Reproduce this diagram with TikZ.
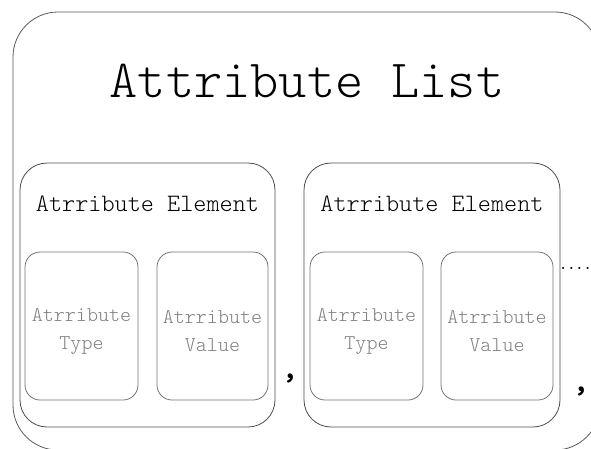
\documentclass[tikz,border=0pt]{standalone}
\usetikzlibrary{positioning}

\tikzset{
    listbox/.style={draw=black!65, line width=0.8pt, rounded corners=45pt},
    elembox/.style={draw=black!70, line width=0.8pt, rounded corners=27pt, minimum height=264pt, inner sep=0pt},
    partbox/.style={draw=black!55, line width=0.8pt, rounded corners=15pt, minimum height=148pt, inner sep=0pt},
    titletext/.style={font=\ttfamily\fontseries{l}\fontsize{53.7}{54}\selectfont, anchor=base},
    elemtext/.style={font=\ttfamily\fontseries{l}\fontsize{25}{25}\selectfont, anchor=base},
    parttext/.style={font=\ttfamily\fontseries{l}\fontsize{21}{28}\selectfont, text=black!50, align=center, yshift=-5pt},
    sep/.style={font=\ttfamily\bfseries\fontsize{34}{34}\selectfont, anchor=base, inner sep=0pt}
}

\begin{document}
\begin{tikzpicture}[x=1pt, y=-1pt]
    \useasboundingbox (0,0) rectangle (591,448);
    \clip (0,0) rectangle (591,448);
    % the list
    \draw[listbox] (13,12) rectangle (600,450);
    \node[titletext] (title) at (307,97) {Attribute List};

    % first element
    \node[elembox, minimum width=255pt] (elemA) at (147.5,295) {};
    \node[elemtext] (elemAlbl) at (147.5,211) {Atrribute Element};
    \node[partbox, minimum width=113pt] (typeA) at (81.5,326) {};
    \node[partbox, minimum width=111pt] (valA) at (212.5,326) {};
    \node[parttext] at (typeA) {Atrribute\\Type};
    \node[parttext] at (valA) {Atrribute\\Value};

    % second element
    \node[elembox, minimum width=256pt] (elemB) at (432,295) {};
    \node[elemtext] (elemBlbl) at (432,211) {Atrribute Element};
    \node[partbox, minimum width=113pt] (typeB) at (366.5,326) {};
    \node[partbox, minimum width=112pt] (valB) at (497,326) {};
    \node[parttext] at (typeB) {Atrribute\\Type};
    \node[parttext] at (valB) {Atrribute\\Value};

    % separators
    \node[sep] (commaA) at (290,378) {,};
    \node[sep] (commaB) at (581,391) {,};
    \node[font=\ttfamily\bfseries\fontsize{15.5}{15}\selectfont, anchor=base west, inner sep=0pt] (more) at (559,269) {....};
\end{tikzpicture}
\end{document}
